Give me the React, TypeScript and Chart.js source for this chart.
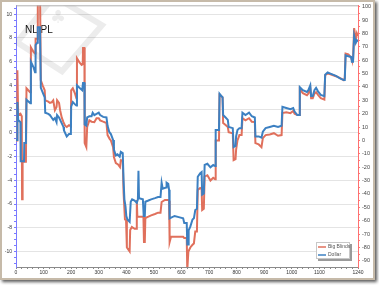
import { useEffect, useRef } from "react";
import { Chart, registerables } from "chart.js";
Chart.register(...registerables);

const chartTitle = "NL PL";
const xTicks = [0, 100, 200, 300, 400, 500, 600, 700, 800, 900, 1000, 1100, 1240];
const leftLabels = [-10, -8, -6, -4, -2, 0, 2, 4, 6, 8, 10];
const rightLabels = [-90, -80, -70, -60, -50, -40, -30, -20, -10, 0, 10, 20, 30, 40, 50, 60, 70, 80, 90, 100];

const dollarX = [0, 4, 5, 8, 16, 17, 29, 30, 36, 38, 52, 54, 64, 69, 71, 77, 79, 87, 90, 97, 104, 106, 117, 123, 129, 135, 141, 147, 149, 156, 160, 166, 172, 174, 184, 192, 199, 200, 206, 214, 219, 221, 230, 240, 243, 248, 249, 255, 258, 266, 274, 278, 284, 292, 300, 305, 316, 328, 332, 338, 344, 352, 355, 362, 368, 376, 380, 387, 390, 393, 397, 400, 404, 412, 416, 421, 430, 438, 442, 444, 446, 460, 463, 467, 469, 480, 490, 504, 515, 524, 528, 532, 544, 546, 552, 555, 557, 575, 590, 606, 610, 619, 621, 624, 626, 632, 640, 645, 650, 656, 659, 668, 673, 675, 681, 684, 694, 705, 715, 722, 724, 736, 738, 745, 749, 751, 760, 768, 771, 786, 789, 796, 798, 803, 810, 818, 821, 832, 845, 855, 866, 868, 880, 890, 895, 905, 920, 935, 950, 963, 966, 980, 995, 1005, 1010, 1020, 1027, 1029, 1040, 1055, 1060, 1067, 1070, 1076, 1082, 1088, 1095, 1105, 1118, 1121, 1130, 1140, 1160, 1175, 1188, 1192, 1195, 1205, 1215, 1218, 1222, 1226, 1232, 1236, 1240];
const dollarY = [-0.6, -0.6, 2.6, 1.1, 0.9, -2.4, -2.4, -0.85, -0.85, 2.8, 2.5, 6.0, 5.5, 5.1, 7.4, 7.6, 8.9, 8.9, 3.8, 3.4, 3.0, 1.7, 1.6, 1.5, 1.3, 1.1, 1.25, 0.9, 1.5, 1.3, 1.1, 0.8, 0.5, 0.2, -0.3, -0.1, -0.1, 2.2, 2.6, 2.4, 2.3, 4.0, 3.8, 3.6, 4.2, 4.2, 0.7, 0.6, 1.3, 1.4, 1.4, 1.7, 1.5, 1.6, 1.7, 1.5, 1.35, 1.3, 0.6, 0.1, -0.1, -0.6, -1.4, -1.9, -1.8, -2.0, -1.6, -1.7, -4.0, -5.6, -6.2, -7.0, -7.3, -7.5, -5.8, -5.6, -5.7, -5.9, -5.6, -3.2, -5.5, -5.6, -7.0, -7.0, -5.8, -5.7, -5.6, -5.5, -5.4, -5.4, -4.2, -4.7, -4.6, -4.2, -4.3, -4.8, -7.2, -7.0, -7.1, -7.2, -7.6, -7.6, -9.4, -9.4, -8.2, -7.9, -7.3, -7.2, -6.5, -6.4, -3.7, -3.4, -3.3, -5.2, -5.1, -2.7, -2.6, -2.9, -2.7, -2.8, 0.25, 0.25, 3.3, 3.1, 3.0, 1.5, 1.3, 1.1, 0.5, 0.4, -1.2, -1.1, -0.3, 0.25, 0.4, 0.4, 1.7, 1.5, 1.7, 1.4, 1.3, -0.3, -0.3, -0.4, 0.1, 0.4, 0.5, 0.6, 0.5, 0.6, 2.2, 2.1, 2.0, 2.1, 1.8, 1.5, 1.5, 3.85, 3.6, 3.45, 3.6, 4.0, 3.1, 3.1, 3.6, 3.8, 3.5, 3.2, 3.1, 4.9, 5.1, 5.0, 4.8, 4.6, 4.45, 4.45, 6.55, 6.45, 6.4, 6.0, 6.0, 8.2, 7.6, 7.8, 7.7];

const bigBlindsX = [0, 4, 5, 8, 16, 21, 22, 24, 36, 38, 51, 54, 64, 69, 71, 77, 79, 87, 90, 97, 104, 106, 117, 123, 129, 135, 141, 147, 149, 156, 160, 166, 172, 178, 184, 192, 199, 200, 206, 214, 219, 221, 230, 238, 242, 243, 248, 249, 255, 258, 266, 274, 284, 292, 300, 305, 316, 328, 332, 340, 344, 352, 355, 362, 370, 377, 380, 387, 390, 395, 399, 402, 412, 414, 420, 430, 436, 438, 440, 455, 462, 464, 467, 469, 480, 490, 504, 515, 524, 528, 540, 552, 555, 557, 562, 590, 606, 610, 619, 621, 623, 625, 632, 640, 645, 650, 656, 659, 668, 673, 675, 681, 684, 694, 705, 715, 722, 724, 736, 738, 745, 749, 751, 760, 768, 771, 786, 789, 796, 798, 803, 810, 818, 821, 832, 845, 855, 866, 868, 880, 890, 895, 905, 920, 935, 950, 963, 966, 980, 995, 1005, 1010, 1020, 1027, 1029, 1040, 1055, 1060, 1067, 1070, 1076, 1082, 1088, 1095, 1105, 1118, 1121, 1130, 1140, 1160, 1175, 1188, 1192, 1195, 1205, 1215, 1218, 1222, 1226, 1232, 1236, 1240];
const bigBlindsY = [0, 0, 52.5, 19, 20, 18, -44, -16, -16, 39, 36, 69.6, 66, 65, 76, 76, 115, 115, 45, 41, 37.5, 30, 29, 28, 28.5, 30, 22.6, 25, 30, 28, 22.6, 17, 13.7, 11, 10, 11.4, 10.5, 37.5, 39, 35, 31.5, 61.4, 58.4, 56.5, 57, 69, 69, -2, -5, 10, 15, 14, 13.6, 16.6, 16.6, 15, 14, 13, 4, 1, 0, -5, -12.5, -17, -18, -20, -14.7, -15, -39, -59, -59.5, -80, -83, -67, -64.7, -66, -66, -44.5, -57, -57, -57, -76, -76, -58, -57, -56, -55, -54, -54, -46, -44.5, -44.5, -45, -76, -72, -72, -72, -73, -73, -97, -97, -83, -80, -78, -77, -68, -68, -37, -35.5, -36, -52, -51, -27, -26, -30, -28, -29, 0, 0, 34, 33, 32, 13, 11.5, 10, 6.2, 5.4, -14.7, -14, -7, 0, 4, 4, 16.6, 15, 16.6, 14, 13.7, -2, -3, -5, 1.7, 4, 4.5, 5.4, 3.5, 4, 20.4, 21, 20.4, 22, 20, 19, 19, 38.3, 35.3, 33.8, 35, 39, 31.6, 31.6, 35, 36, 34, 31.6, 30.5, 48.7, 50, 49.5, 48, 46.5, 45, 46.5, 65, 64.4, 62, 60, 60, 84, 75, 80, 78];

const RED = "#e0705c";
const BLUE = "#3c80c2";
const FONT = "'Liberation Sans', Arial, sans-serif";

function pts(xs: number[], ys: number[]) {
  return xs.map((x, i) => ({ x, y: ys[i] }));
}

function range(from: number, to: number, step: number) {
  const out: number[] = [];
  const n = Math.round((to - from) / step);
  for (let i = 0; i <= n; i++) out.push(Math.round((from + i * step) * 1000) / 1000);
  return out;
}

const decorPlugin = {
  id: "decor",
  beforeDatasetsDraw(chart: any) {
    const { ctx, chartArea: a } = chart;
    ctx.save();
    ctx.beginPath();
    ctx.rect(a.left, a.top, a.right - a.left, a.bottom - a.top);
    ctx.clip();
    // faint watermark
    ctx.strokeStyle = "rgba(0,0,0,0.075)";
    ctx.lineWidth = 6;
    ctx.beginPath();
    ctx.moveTo(a.left + 1, a.top + 37);
    ctx.lineTo(a.left + 38, a.top - 9);
    ctx.lineTo(a.left + 86, a.top + 20);
    ctx.lineTo(a.left + 46, a.top + 66);
    ctx.closePath();
    ctx.stroke();
    ctx.fillStyle = "rgba(0,0,0,0.075)";
    ctx.font = "18px 'DejaVu Sans'";
    ctx.textAlign = "center";
    ctx.textBaseline = "middle";
    ctx.fillText("\u2663", a.left + 42, a.top + 13);
    ctx.restore();
    // title
    ctx.save();
    ctx.fillStyle = "#111";
    ctx.font = `10px ${FONT}`;
    ctx.textAlign = "left";
    ctx.textBaseline = "alphabetic";
    ctx.fillText(chartTitle, a.left + 9, a.top + 28);
    ctx.restore();
  },
  afterDraw(chart: any) {
    const { ctx, chartArea: a } = chart;
    ctx.save();
    // top border of plot
    ctx.strokeStyle = "#b0b0b0";
    ctx.lineWidth = 1;
    ctx.beginPath();
    ctx.moveTo(a.left, a.top + 0.5);
    ctx.lineTo(a.right, a.top + 0.5);
    ctx.stroke();
    // legend
    const bx = a.right - 42, by = a.bottom - 25, bw = 34, bh = 17;
    ctx.fillStyle = "#9a9a9a";
    ctx.fillRect(bx + 2, by + 2, bw, bh);
    ctx.fillStyle = "#fff";
    ctx.fillRect(bx, by, bw, bh);
    ctx.strokeStyle = "#c8c8c8";
    ctx.strokeRect(bx + 0.5, by + 0.5, bw - 1, bh - 1);
    const ds = chart.data.datasets;
    ctx.font = `5px ${FONT}`;
    ctx.textBaseline = "middle";
    ctx.textAlign = "left";
    ds.forEach((d: any, i: number) => {
      const y = by + 5 + i * 8;
      ctx.strokeStyle = d.borderColor;
      ctx.lineWidth = 1.5;
      ctx.beginPath();
      ctx.moveTo(bx + 2, y);
      ctx.lineTo(bx + 10, y);
      ctx.stroke();
      ctx.fillStyle = "#555";
      ctx.fillText(d.label, bx + 12, y);
    });
    ctx.restore();
  },
};

export default function App() {
  const ref = useRef<HTMLCanvasElement>(null);
  useEffect(() => {
    document.body.style.margin = "0";
    const xMinor = range(0, 1240, 20);
    const leftMinor = range(-11, 10.5, 0.5);
    const rightMinor = range(-90, 100, 5);
    const chart = new Chart(ref.current as HTMLCanvasElement, {
      type: "line",
      data: {
        datasets: [
          {
            label: "Big Blinds",
            data: pts(bigBlindsX, bigBlindsY),
            yAxisID: "y1",
            borderColor: RED,
            borderWidth: 2,
            pointRadius: 0,
            tension: 0,
            order: 2,
          },
          {
            label: "Dollar",
            data: pts(dollarX, dollarY),
            yAxisID: "y",
            borderColor: BLUE,
            borderWidth: 2,
            pointRadius: 0,
            tension: 0,
            order: 1,
          },
        ],
      },
      plugins: [decorPlugin],
      options: {
        responsive: false,
        animation: false,
        devicePixelRatio: 1,
        layout: { padding: { top: 5, left: 0, right: 0, bottom: 0 } },
        plugins: { legend: { display: false }, tooltip: { enabled: false }, title: { display: false } },
        scales: {
          x: {
            type: "linear",
            min: 0,
            max: 1240,
            afterBuildTicks: (s: any) => { s.ticks = xMinor.map((v) => ({ value: v })); },
            afterFit: (s: any) => { s.height = 18; },
            grid: { drawOnChartArea: false, drawTicks: true, tickLength: 2, tickColor: "#8a8a8a" },
            border: { color: "#8a8a8a", width: 1 },
            ticks: {
              autoSkip: false,
              maxRotation: 0,
              padding: 1,
              color: "#333",
              font: { size: 5, family: FONT },
              callback: (v: any) => (xTicks.includes(v) && (v <= 1100 || v === 1240) ? String(v) : ""),
            },
          },
          y: {
            type: "linear",
            position: "left",
            min: -11.3,
            max: 10.75,
            afterBuildTicks: (s: any) => { s.ticks = leftMinor.map((v) => ({ value: v })); },
            afterFit: (s: any) => { s.width = 16; },
            grid: {
              drawOnChartArea: true,
              tickLength: 2,
              color: (c: any) => (c.tick && leftLabels.includes(c.tick.value) ? "#e4e4e4" : "rgba(0,0,0,0)"),
              tickColor: "#7a7aff",
            },
            border: { color: "#7a7aff", width: 1 },
            ticks: {
              autoSkip: false,
              padding: 2,
              color: "#333",
              font: { size: 5, family: FONT },
              callback: (v: any) => (leftLabels.includes(v) ? String(v) : ""),
            },
          },
          y1: {
            type: "linear",
            position: "right",
            min: -94.6,
            max: 101,
            afterBuildTicks: (s: any) => { s.ticks = rightMinor.map((v) => ({ value: v })); },
            afterFit: (s: any) => { s.width = 21; },
            grid: { drawOnChartArea: false, tickLength: 2, tickColor: "#ff7a7a" },
            border: { color: "#ff7070", width: 1 },
            ticks: {
              autoSkip: false,
              padding: 2,
              color: "#444",
              font: { size: 5.5, family: FONT },
              callback: (v: any) => (rightLabels.includes(v) ? String(v) : ""),
            },
          },
        },
      },
    } as any);
    return () => chart.destroy();
  }, []);
  return (
    <div style={{ position: "relative", width: 379, height: 285, background: "#fff" }}>
      <div
        style={{
          position: "absolute",
          left: 0,
          top: 0,
          width: 375,
          height: 280,
          boxSizing: "border-box",
          border: "2px solid #c6baa9",
          boxShadow: "2px 2px 3px rgba(0,0,0,0.65)",
          background: "#fff",
        }}
      />
      <canvas ref={ref} width={379} height={285} style={{ position: "absolute", left: 0, top: 0, width: 379, height: 285 }} />
    </div>
  );
}
